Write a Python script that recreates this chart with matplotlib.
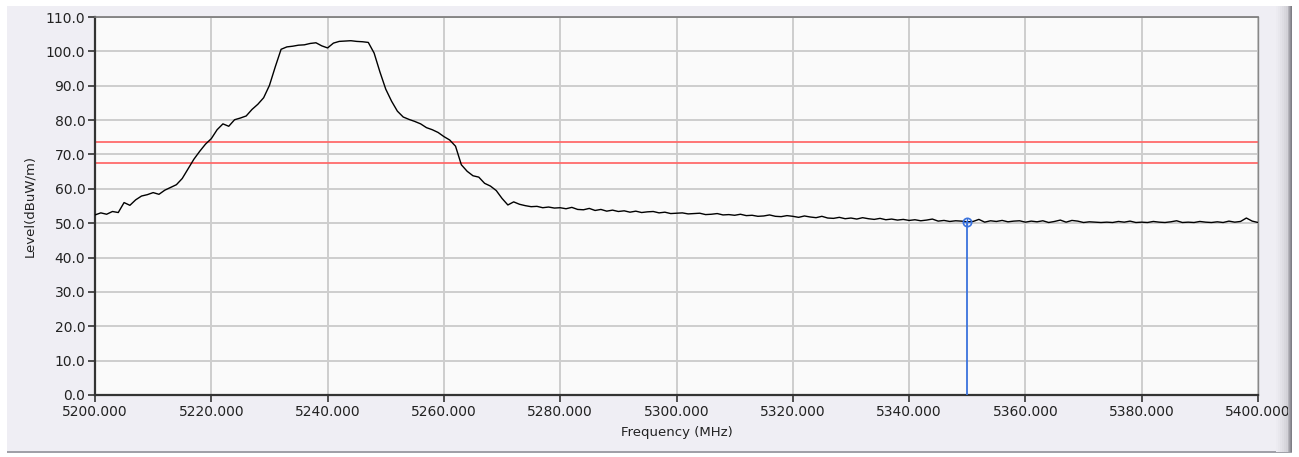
import numpy as np
import matplotlib
matplotlib.use("Agg")
import matplotlib.pyplot as plt
from matplotlib.patches import Rectangle
from matplotlib.ticker import FormatStrFormatter

# trace, one reading per MHz from 5200 to 5400
freq_start = 5200
level = [
    52.4, 53.0, 52.6, 53.4, 53.1, 56.0, 55.2, 56.8, 57.9, 58.3,
    58.9, 58.4, 59.6, 60.4, 61.2, 63.0, 65.8, 68.6, 70.9, 73.0,
    74.6, 77.2, 78.9, 78.2, 80.1, 80.6, 81.2, 83.1, 84.6, 86.5,
    90.1, 95.5, 100.6, 101.3, 101.5, 101.8, 101.9, 102.3, 102.5, 101.6,
    101.0, 102.4, 102.9, 103.0, 103.1, 102.9, 102.8, 102.6, 99.5, 94.0,
    89.0, 85.5, 82.6, 80.9, 80.2, 79.6, 78.9, 77.8, 77.2, 76.4,
    75.2, 74.2, 72.4, 67.0, 65.1, 63.8, 63.4, 61.6, 60.8, 59.5,
    57.2, 55.3, 56.2, 55.5, 55.1, 54.8, 54.9, 54.5, 54.7, 54.4,
    54.5, 54.2, 54.6, 54.0, 53.9, 54.3, 53.7, 54.0, 53.5, 53.8,
    53.4, 53.6, 53.2, 53.5, 53.1, 53.3, 53.4, 53.0, 53.2, 52.8,
    52.9, 53.0, 52.7, 52.8, 52.9, 52.5, 52.6, 52.8, 52.4, 52.5,
    52.3, 52.6, 52.2, 52.3, 52.0, 52.1, 52.4, 52.0, 51.9, 52.2,
    52.0, 51.7, 52.1, 51.8, 51.6, 52.0, 51.5, 51.4, 51.7, 51.3,
    51.5, 51.2, 51.6, 51.3, 51.1, 51.4, 51.0, 51.2, 50.9, 51.1,
    50.8, 51.0, 50.7, 50.9, 51.2, 50.6, 50.8, 50.5, 50.7, 50.6,
    50.4, 50.5, 51.1, 50.3, 50.7, 50.5, 50.8, 50.4, 50.6, 50.7,
    50.3, 50.6, 50.4, 50.7, 50.2, 50.5, 50.9, 50.3, 50.8, 50.6,
    50.2, 50.4, 50.3, 50.2, 50.3, 50.2, 50.5, 50.3, 50.6, 50.2,
    50.3, 50.2, 50.5, 50.3, 50.2, 50.4, 50.7, 50.2, 50.3, 50.2,
    50.5, 50.3, 50.2, 50.4, 50.2, 50.6, 50.3, 50.5, 51.5, 50.6,
    50.2,
]
freq = np.arange(freq_start, freq_start + len(level))

limit_lines = [73.5, 67.5]
marker_freq = 5350
marker_level = 50.4

x_ticks = np.arange(5200, 5401, 20)
y_ticks = np.arange(0, 111, 10)

W, H = 1299, 457
fig = plt.figure(figsize=(W / 100, H / 100), dpi=100)
fig.patch.set_facecolor("white")


def px_rect(x, y, w, h, color, z):
    # rectangle given in pixels, y measured from the bottom
    fig.patches.append(Rectangle((x / W, y / H), w / W, h / H, transform=fig.transFigure,
                                 facecolor=color, edgecolor="none", zorder=z))


# window panel
px_rect(7, 5, 1285, 446, "#EFEEF4", -10)
px_rect(7, 4, 1285, 2, "#A0A0A8", -9)
# shaded right edge: light part behind, dark part over the last tick label
light = ["#ECEBF1", "#E8E7ED", "#E3E2E8", "#DEDDE3", "#D8D7DD", "#D2D1D7"]
for i, c in enumerate(light):
    px_rect(1276 + 2 * i, 5, 2, 446, c, -8)
dark = ["#B4B3BA", "#A2A1A8", "#908F96", "#7E7D84"]
for i, c in enumerate(dark):
    px_rect(1288 + i, 5, 1, 446, c, 10)

ax = fig.add_axes([95 / W, 62 / H, 1163 / W, 378 / H])
ax.set_facecolor("#FAFAFA")

ax.grid(True, color="#CDCDCD", linewidth=1.4)
ax.set_axisbelow(True)

for y in limit_lines:
    ax.axhline(y, color="#FF6B6B", linewidth=1.3, zorder=2)

ax.plot(freq, level, color="black", linewidth=1.0, zorder=3)

ax.plot([marker_freq, marker_freq], [0, marker_level], color="#3A72DD", linewidth=1.3, zorder=4)
ax.plot(marker_freq, marker_level, marker="o", markersize=6, markerfacecolor="none",
        markeredgecolor="#3A72DD", markeredgewidth=1.2, zorder=5)
ax.plot(marker_freq, marker_level, marker="+", markersize=6, color="#3A72DD",
        markeredgewidth=0.9, zorder=5)

ax.set_xlim(5200, 5400)
ax.set_ylim(0, 110)
ax.set_xticks(x_ticks)
ax.set_yticks(y_ticks)
ax.xaxis.set_major_formatter(FormatStrFormatter("%.3f"))
ax.yaxis.set_major_formatter(FormatStrFormatter("%.1f"))
ax.tick_params(direction="out", length=5, width=1.2, color="#333333",
               labelsize=10, labelcolor="#222222", pad=2)

ax.spines["left"].set_color("#333333")
ax.spines["bottom"].set_color("#333333")
ax.spines["left"].set_linewidth(1.6)
ax.spines["bottom"].set_linewidth(1.6)
ax.spines["top"].set_color("#777777")
ax.spines["right"].set_color("#888888")
ax.spines["top"].set_linewidth(1.2)
ax.spines["right"].set_linewidth(1.0)

ax.set_xlabel("Frequency (MHz)", fontsize=9.5, color="#222222", labelpad=5)
ax.set_ylabel("Level(dBuW/m)", fontsize=9.5, color="#222222", labelpad=7)

fig.savefig("out.png", dpi=100)
